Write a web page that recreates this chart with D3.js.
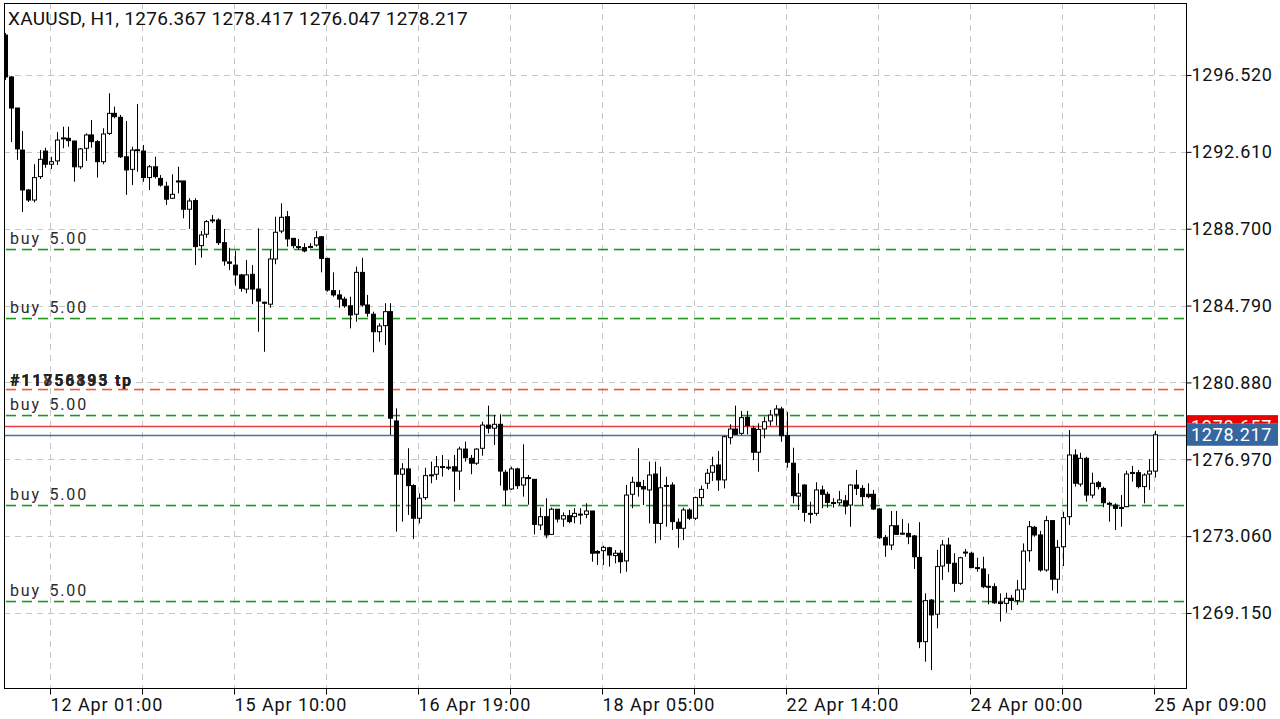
<!DOCTYPE html>
<html><head><meta charset="utf-8">
<script src="https://cdn.jsdelivr.net/npm/d3@7"></script>
<style>html,body{margin:0;padding:0;background:#fff;overflow:hidden}svg{display:block;font-family:Roboto,"Liberation Sans",sans-serif}</style>
</head><body><svg id="c" width="1280" height="719"></svg>
<script>
const titleText = "XAUUSD, H1, 1276.367 1278.417 1276.047 1278.217";
const open = [
1298.55,1296.42,1294.84,1292.70,1290.67,1290.16,1291.35,1292.65,1291.98,1292.15,
1293.30,1293.30,1293.16,1291.85,1292.79,1293.47,1293.13,1292.11,1293.55,1294.57,
1294.37,1292.36,1291.72,1292.70,1292.65,1291.30,1291.85,1291.26,1290.86,1290.25,
1291.13,1291.13,1289.69,1290.13,1287.84,1288.42,1289.14,1289.14,1287.99,1287.01,
1286.85,1286.35,1285.63,1286.38,1285.63,1284.96,1284.86,1287.16,1288.58,1289.31,
1288.21,1287.79,1287.74,1287.79,1287.87,1288.29,1287.19,1285.55,1285.33,1285.12,
1284.78,1284.35,1286.48,1284.82,1284.35,1283.46,1283.77,1284.48,1278.92,1276.21,
1276.48,1275.63,1273.97,1275.02,1276.17,1276.21,1276.59,1276.56,1276.59,1276.37,
1277.49,1277.02,1276.77,1277.53,1278.71,1278.55,1278.75,1276.31,1275.46,1276.48,
1275.66,1276.03,1275.95,1273.63,1274.05,1273.15,1274.43,1273.93,1274.10,1274.05,
1274.17,1274.17,1274.34,1272.28,1272.32,1272.47,1272.07,1272.19,1271.80,1275.19,
1275.80,1275.58,1275.41,1276.22,1273.71,1275.63,1275.66,1273.77,1273.46,1274.39,
1273.97,1275.02,1275.75,1276.31,1276.68,1275.92,1278.07,1278.51,1278.29,1279.11,
1278.55,1277.33,1278.51,1278.92,1279.26,1279.53,1278.17,1276.77,1275.10,1275.66,
1274.22,1274.22,1275.41,1275.19,1274.76,1274.76,1274.86,1274.64,1275.66,1275.49,
1275.19,1275.19,1274.44,1272.98,1272.61,1273.59,1273.20,1273.20,1273.07,1271.98,
1267.69,1269.81,1269.09,1271.54,1272.61,1271.68,1270.66,1272.24,1272.19,1271.46,
1271.39,1270.51,1270.49,1269.67,1269.64,1269.90,1269.78,1270.36,1272.32,1273.51,
1273.12,1271.34,1273.85,1270.87,1272.52,1274.05,1277.19,1275.71,1277.02,1275.15,
1275.78,1275.49,1274.73,1274.64,1274.51,1274.56,1276.29,1276.29,1275.58,1276.22,
1276.367];
const high = [
1298.66,1296.47,1294.84,1293.67,1290.72,1291.98,1292.70,1292.82,1292.36,1293.61,
1293.89,1293.89,1293.18,1292.81,1293.55,1294.23,1293.21,1293.81,1295.59,1294.91,
1294.49,1294.18,1292.87,1295.04,1292.96,1291.94,1292.36,1291.43,1291.09,1291.47,
1291.85,1291.13,1290.25,1290.25,1288.58,1289.14,1289.40,1289.23,1288.69,1287.73,
1287.57,1286.40,1287.11,1286.85,1288.72,1284.99,1287.62,1289.31,1289.99,1289.60,
1288.23,1288.18,1287.96,1287.96,1288.58,1288.33,1287.22,1286.48,1285.58,1285.24,
1285.24,1286.77,1287.22,1285.33,1284.48,1283.89,1284.91,1284.91,1279.56,1276.77,
1277.53,1275.70,1275.24,1276.54,1276.85,1277.14,1277.19,1276.93,1277.19,1277.61,
1277.87,1277.19,1277.53,1278.88,1279.70,1279.22,1279.26,1276.43,1276.59,1276.54,
1277.73,1276.17,1275.95,1274.51,1274.99,1274.51,1274.44,1274.27,1274.39,1274.48,
1274.48,1274.73,1274.34,1272.35,1272.57,1272.52,1272.35,1272.35,1275.66,1276.08,
1277.53,1275.92,1276.85,1276.85,1276.59,1276.08,1275.80,1273.97,1274.51,1274.48,
1275.07,1275.63,1276.48,1277.10,1277.39,1278.17,1278.75,1279.70,1279.43,1279.43,
1278.68,1278.80,1279.14,1279.48,1279.73,1279.64,1279.38,1277.56,1276.26,1275.70,
1274.81,1275.80,1275.63,1275.32,1274.99,1275.36,1275.15,1275.70,1276.43,1275.66,
1275.75,1275.41,1274.48,1273.12,1274.34,1274.34,1273.93,1273.71,1273.12,1273.77,
1270.15,1269.86,1272.36,1272.86,1272.98,1272.19,1272.01,1272.41,1272.27,1271.96,
1272.01,1271.13,1270.66,1270.15,1270.18,1270.07,1270.83,1272.69,1273.83,1273.58,
1273.33,1274.09,1273.88,1272.86,1274.30,1278.46,1277.48,1277.30,1277.10,1276.29,
1275.87,1275.58,1274.81,1274.73,1275.15,1276.39,1276.63,1276.43,1276.26,1276.97,
1278.417];
const low = [
1296.27,1293.11,1292.20,1289.55,1290.06,1290.04,1291.23,1291.80,1291.74,1291.94,
1292.79,1292.87,1291.09,1291.74,1292.15,1292.82,1291.30,1291.98,1293.47,1294.32,
1292.30,1290.42,1290.92,1291.60,1291.09,1290.67,1291.26,1290.84,1289.91,1290.21,
1290.50,1289.23,1288.69,1286.85,1287.23,1288.24,1288.98,1287.87,1286.82,1286.60,
1285.80,1285.50,1285.41,1284.86,1283.46,1282.44,1284.68,1286.89,1288.47,1287.79,
1287.70,1287.62,1287.50,1287.70,1287.79,1286.48,1285.50,1285.24,1284.68,1284.68,
1283.63,1283.97,1284.73,1284.22,1282.41,1282.95,1282.78,1278.21,1273.29,1273.80,
1274.14,1272.92,1273.71,1274.90,1275.75,1275.92,1276.09,1276.42,1274.81,1275.41,
1276.85,1276.21,1276.68,1277.15,1278.29,1277.70,1275.63,1274.61,1275.41,1275.46,
1275.07,1274.66,1273.15,1273.37,1272.95,1273.12,1273.76,1273.54,1273.71,1273.71,
1273.66,1273.97,1271.76,1271.59,1271.59,1271.51,1271.68,1271.17,1271.25,1274.48,
1275.07,1274.64,1273.71,1272.70,1272.86,1273.54,1273.37,1272.47,1272.86,1273.88,
1273.88,1274.64,1275.46,1275.87,1275.36,1275.49,1277.73,1278.21,1278.21,1278.24,
1276.93,1276.34,1278.04,1278.68,1278.68,1277.86,1276.54,1274.73,1274.39,1273.80,
1273.71,1274.10,1274.48,1274.51,1274.51,1274.64,1274.17,1273.54,1275.15,1274.64,
1274.99,1274.39,1272.92,1272.01,1272.36,1273.12,1273.12,1272.65,1271.39,1267.36,
1266.67,1266.25,1268.37,1270.83,1271.22,1270.23,1270.58,1272.01,1271.43,1271.25,
1270.41,1269.59,1269.61,1268.71,1269.17,1269.30,1269.56,1269.78,1271.76,1273.03,
1271.25,1271.25,1270.29,1270.15,1271.54,1273.63,1275.58,1275.58,1274.81,1274.99,
1275.44,1274.53,1273.80,1273.37,1273.54,1274.53,1275.83,1275.49,1274.73,1275.41,
1276.047];
const close = [
1296.42,1294.84,1292.76,1290.67,1290.16,1291.30,1292.23,1291.98,1292.11,1293.21,
1293.32,1293.18,1291.85,1292.76,1293.47,1293.13,1292.11,1293.52,1294.57,1294.40,
1292.36,1291.69,1292.70,1292.72,1291.30,1291.85,1291.35,1290.92,1290.20,1290.45,
1291.12,1289.69,1290.11,1287.79,1288.38,1289.06,1289.15,1287.99,1287.06,1286.94,
1286.35,1285.67,1286.35,1285.63,1285.02,1284.95,1287.16,1288.52,1289.28,1288.18,
1287.84,1287.78,1287.57,1287.80,1288.24,1287.19,1285.58,1285.33,1285.12,1284.78,
1284.31,1286.48,1284.82,1284.40,1283.46,1283.75,1284.48,1279.06,1276.21,1276.48,
1275.63,1273.97,1274.99,1276.14,1276.18,1276.59,1276.60,1276.57,1276.37,1277.49,
1277.05,1276.77,1277.49,1278.71,1278.55,1278.75,1276.37,1275.41,1276.48,1275.63,
1276.03,1276.04,1273.66,1274.05,1273.12,1274.43,1273.93,1274.10,1273.80,1274.22,
1274.18,1274.34,1272.19,1272.20,1272.49,1272.10,1272.19,1271.76,1275.15,1275.80,
1275.58,1275.46,1276.17,1273.71,1275.52,1275.64,1273.80,1273.46,1274.39,1273.97,
1275.02,1275.44,1276.26,1276.64,1275.92,1278.12,1278.51,1278.24,1279.09,1278.68,
1277.33,1278.49,1278.88,1279.22,1279.53,1278.17,1276.82,1275.12,1275.24,1274.27,
1274.21,1275.41,1275.19,1274.78,1274.77,1274.90,1274.59,1275.66,1275.49,1275.07,
1275.07,1274.44,1272.98,1272.61,1273.59,1273.15,1273.21,1273.03,1272.01,1267.69,
1269.78,1269.05,1271.51,1272.61,1271.68,1270.66,1271.96,1272.25,1271.46,1271.45,
1270.49,1270.50,1269.67,1269.68,1269.90,1269.78,1270.32,1272.30,1273.54,1273.12,
1271.34,1273.85,1270.87,1272.49,1274.00,1277.19,1275.75,1277.02,1275.15,1275.75,
1275.58,1274.76,1274.72,1274.47,1274.52,1276.22,1276.30,1275.58,1276.17,1276.37,
1278.217];
const timeTickIndex = [8, 40, 72, 104, 136, 168, 200];
const timeTickLabels = ["12 Apr 01:00", "15 Apr 10:00", "16 Apr 19:00", "18 Apr 05:00", "22 Apr 14:00", "24 Apr 00:00", "25 Apr 09:00"];
const timeGridIndex = [8, 24, 40, 56, 72, 88, 104, 120, 136, 152, 168, 184, 200];
const priceTicks = [1296.52, 1292.61, 1288.70, 1284.79, 1280.88, 1276.97, 1273.06, 1269.15];
const buyLevels = [1287.67, 1284.16, 1279.22, 1274.64, 1269.76];
const buyLabels = ["buy 5.00", "buy 5.00", "buy 5.00", "buy 5.00", "buy 5.00"];
const tpLevel = 1280.55;
const tpLabels = ["#11756195 tp", "#11858393 tp", "#11756833 tp"];
const askPrice = 1278.657;
const bidPrice = 1278.217;

const svg = d3.select("#c");
const L = 4, R = 1186, T = 3, B = 688;
const x = d3.scaleLinear().domain([0, 200]).range([5, 1155]);
const y = d3.scaleLinear().domain([1269.15, 1296.52]).range([613, 75]);
const px = v => Math.round(v) + 0.5;

svg.append("rect").attr("width", 1280).attr("height", 719).attr("fill", "#fff");
const defs = svg.append("defs");
defs.append("clipPath").attr("id", "clip").append("rect")
  .attr("x", L).attr("y", T).attr("width", R - L).attr("height", B - T);
const plot = svg.append("g").attr("clip-path", "url(#clip)");

// grid
plot.selectAll("line.hg").data(priceTicks).join("line").attr("class", "hg")
  .attr("x1", L).attr("x2", R).attr("y1", d => px(y(d))).attr("y2", d => px(y(d)))
  .attr("stroke", "#c6c6c6").attr("stroke-width", 1).attr("stroke-dasharray", "6,5");
plot.selectAll("line.vg").data(timeGridIndex).join("line").attr("class", "vg")
  .attr("x1", d => px(x(d)) - 1).attr("x2", d => px(x(d)) - 1).attr("y1", T).attr("y2", B)
  .attr("stroke", "#c6c6c6").attr("stroke-width", 1).attr("stroke-dasharray", "6,5");

// dashed order lines drawn as dash rectangles
const dashStarts = d3.range(L + 2, R, 16);
function dashedLevel(level, color) {
  const yy = Math.round(y(level));
  plot.append("g").selectAll("rect").data(dashStarts).join("rect")
    .attr("x", d => d).attr("y", yy - 0.25).attr("width", 10).attr("height", 1.6).attr("fill", color);
}
buyLevels.forEach(v => dashedLevel(v, "#1e961e"));
dashedLevel(tpLevel, "#f05a30");
plot.append("rect").attr("x", L).attr("width", R - L).attr("y", Math.round(y(askPrice)) - 0.25).attr("height", 1.5).attr("fill", "#e63c3c");
plot.append("rect").attr("x", L).attr("width", R - L).attr("y", Math.round(y(bidPrice)) - 0.25).attr("height", 1.5).attr("fill", "#4573a6");

// candles
const idx = d3.range(open.length);
const cg = plot.append("g");
cg.selectAll("line.wick").data(idx).join("line").attr("class", "wick")
  .attr("x1", i => px(x(i))).attr("x2", i => px(x(i)))
  .attr("y1", i => y(high[i])).attr("y2", i => y(low[i]))
  .attr("stroke", "#000").attr("stroke-width", 1);
cg.selectAll("rect.body").data(idx).join("rect").attr("class", "body")
  .attr("x", i => Math.round(x(i)) - 2 + 0.5)
  .attr("width", 4)
  .attr("y", i => Math.min(y(open[i]), y(close[i])))
  .attr("height", i => Math.max(1, Math.abs(y(open[i]) - y(close[i]))))
  .attr("fill", i => close[i] >= open[i] ? "#fff" : "#000")
  .attr("stroke", "#000").attr("stroke-width", 1);

// order labels
svg.selectAll("text.bl").data(buyLevels).join("text").attr("class", "bl")
  .attr("x", 10).attr("y", d => y(d) - 5)
  .attr("font-size", 16).attr("letter-spacing", "1.8px").attr("word-spacing", "3px").attr("fill", "#2a2a2a")
  .text((d, i) => buyLabels[i]);
svg.selectAll("text.tl").data(tpLabels).join("text").attr("class", "tl")
  .attr("x", 10).attr("y", y(tpLevel) - 3)
  .attr("font-size", 16).attr("font-weight", "bold").attr("letter-spacing", "1.8px")
  .attr("fill", "#222").attr("fill-opacity", 0.85)
  .text(d => d);

// frame
svg.append("rect").attr("x", L + 0.5).attr("y", T + 0.5).attr("width", R - L).attr("height", B - T)
  .attr("fill", "none").attr("stroke", "#000").attr("stroke-width", 1);

// price axis
const ya = svg.append("g").attr("transform", `translate(${R + 0.5},0)`)
  .call(d3.axisRight(y).tickValues(priceTicks).tickFormat(d3.format(".3f")).tickSize(5).tickPadding(2));
ya.select(".domain").remove();
ya.selectAll(".tick line").attr("stroke", "#000");
ya.selectAll("text").attr("font-size", 18).attr("letter-spacing", "0.7px").attr("fill", "#111")
  .attr("font-family", "Roboto, sans-serif").attr("dx", "-2px");

// time axis
const xa = svg.append("g").attr("transform", `translate(0,${B + 0.5})`)
  .call(d3.axisBottom(x).tickValues(timeGridIndex).tickSize(6).tickPadding(4)
    .tickFormat(i => { const k = timeTickIndex.indexOf(i); return k >= 0 ? timeTickLabels[k] : ""; }));
xa.select(".domain").remove();
xa.selectAll(".tick line").attr("stroke", "#000").attr("transform", "translate(-1,0)");
xa.selectAll("text").attr("text-anchor", "start").attr("dx", "-1px").attr("font-size", 18)
  .attr("letter-spacing", "0.9px").attr("fill", "#111").attr("font-family", "Roboto, sans-serif");

// price labels (ask partly hidden behind bid, as in the terminal)
const askY = y(askPrice), bidY = y(bidPrice);
defs.append("clipPath").attr("id", "askclip").append("rect")
  .attr("x", R).attr("y", askY - 12).attr("width", 94).attr("height", (bidY - 11) - (askY - 12));
const askG = svg.append("g").attr("clip-path", "url(#askclip)");
askG.append("rect").attr("x", R + 1).attr("y", askY - 11).attr("width", 91).attr("height", 22).attr("fill", "#ee0000");
askG.append("text").attr("x", R + 5).attr("y", askY).attr("dy", "0.36em").attr("font-size", 18)
  .attr("letter-spacing", "0.7px").attr("fill", "#fff").text(askPrice.toFixed(3));
svg.append("rect").attr("x", R + 1).attr("y", bidY - 11).attr("width", 91).attr("height", 22).attr("fill", "#3566a0");
svg.append("text").attr("x", R + 5).attr("y", bidY).attr("dy", "0.36em").attr("font-size", 18)
  .attr("letter-spacing", "0.7px").attr("fill", "#fff").text(bidPrice.toFixed(3));

// title
svg.append("text").attr("x", 8).attr("y", 25).attr("font-size", 19).attr("fill", "#111")
  .attr("letter-spacing", "0.3px").text(titleText);
</script></body></html>
